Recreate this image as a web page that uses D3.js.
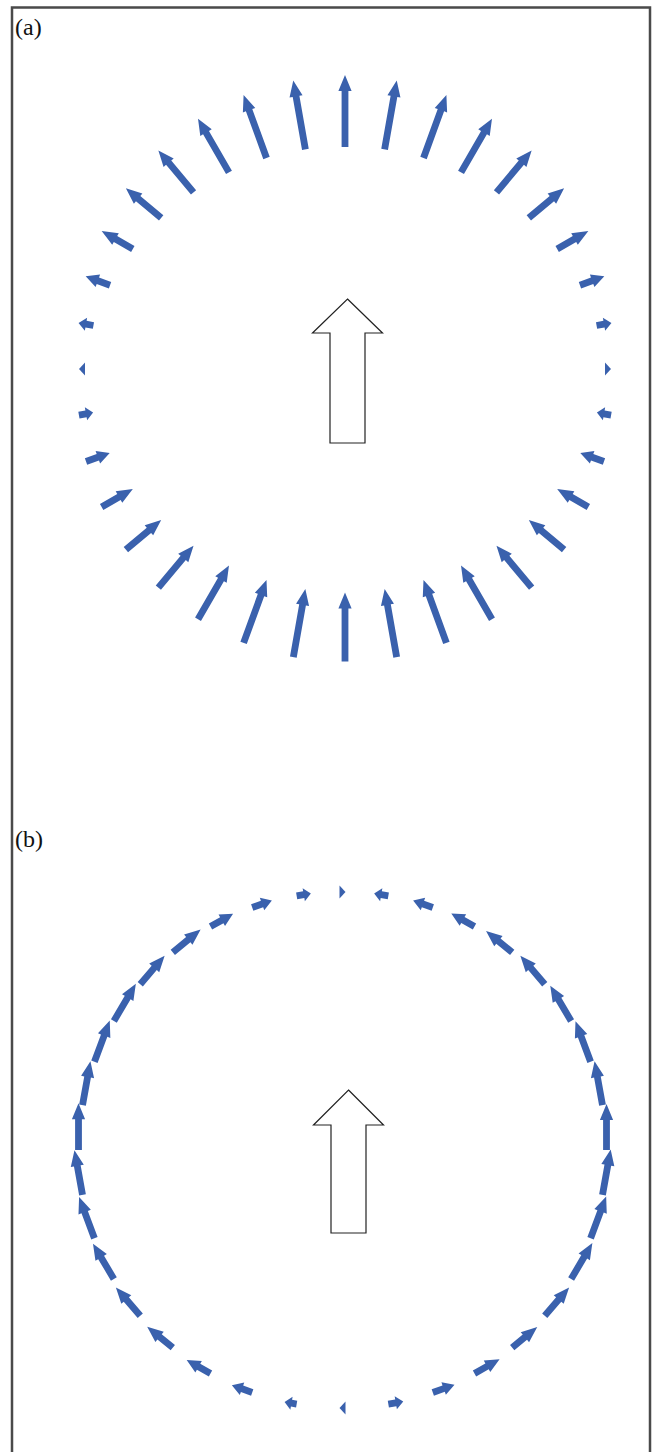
<!DOCTYPE html>
<html>
<head>
<meta charset="utf-8">
<script src="https://cdn.jsdelivr.net/npm/d3@7"></script>
<style>
  body { margin: 0; background: #fff; }
  svg { display: block; }
</style>
</head>
<body>
<svg id="chart"></svg>
<script>
// field sample points, degrees clockwise from the top of the circle
var angles = [0, 10, 20, 30, 40, 50, 60, 70, 80, 90, 100, 110, 120, 130, 140, 150, 160, 170,
              180, 190, 200, 210, 220, 230, 240, 250, 260, 270, 280, 290, 300, 310, 320, 330, 340, 350];

// (a) radial component, + points outward
var radial = [1.00, 0.97, 0.93, 0.86, 0.76, 0.64, 0.50, 0.36, 0.21, 0.06, -0.20, -0.35, -0.50, -0.64, -0.76, -0.86, -0.93, -0.96,
              -0.96, -0.96, -0.93, -0.86, -0.76, -0.64, -0.50, -0.35, -0.20, 0.08, 0.21, 0.36, 0.50, 0.64, 0.76, 0.86, 0.93, 0.97];

// (b) tangential component, + points clockwise
var tangential = [0.05, -0.20, -0.29, -0.37, -0.47, -0.52, -0.57, -0.60, -0.62, -0.64, -0.64, -0.62, -0.58, -0.52, -0.45, -0.40, -0.32, -0.21,
                  0.06, 0.17, 0.30, 0.38, 0.46, 0.52, 0.57, 0.61, 0.63, 0.65, 0.62, 0.61, 0.60, 0.52, 0.50, 0.36, 0.29, 0.20];

var panelLabels = ['(a)', '(b)'];

var W = 653, H = 1452;
var blue = '#3a61ad';

var svg = d3.select('#chart')
    .attr('width', W)
    .attr('height', H);

// frame, runs off the bottom of the picture
svg.append('rect')
    .attr('x', 12)
    .attr('y', 7.5)
    .attr('width', 638)
    .attr('height', 1470)
    .style('fill', 'none')
    .style('stroke', '#4a4a4a')
    .style('stroke-width', 2.5);

var lenScale = d3.scaleLinear().domain([0, 1]).range([0, 72]);
var rad = d3.scaleLinear().domain([0, 360]).range([0, 2 * Math.PI]);

var panels = [
    {label: panelLabels[0], labelY: 35, cx: 345, cy: 369, rx: 263, ry: 258, mode: 'radial', values: radial,
     big: {x: 347.5, tip: 299, base: 333, bottom: 443}},
    {label: panelLabels[1], labelY: 847, cx: 342.5, cy: 1150, rx: 264, ry: 258, mode: 'tangential', values: tangential,
     big: {x: 348.5, tip: 1090, base: 1125, bottom: 1233}}
];

// arrow outline from tail point, unit direction and length
function arrowPath(x0, y0, ux, uy, L) {
    L = Math.max(L, 6);
    var h = Math.min(L, Math.min(16, Math.max(7, L * 0.5)));
    var sw = 3.4, hw = 6.6;
    var nx = -uy, ny = ux;
    var bx = x0 + ux * (L - h), by = y0 + uy * (L - h);
    var tx = x0 + ux * L, ty = y0 + uy * L;
    var pts = [
        [x0 + nx * sw, y0 + ny * sw],
        [bx + nx * sw, by + ny * sw],
        [bx + nx * hw, by + ny * hw],
        [tx, ty],
        [bx - nx * hw, by - ny * hw],
        [bx - nx * sw, by - ny * sw],
        [x0 - nx * sw, y0 - ny * sw]
    ];
    return 'M' + pts.map(function (p) { return p[0].toFixed(2) + ',' + p[1].toFixed(2); }).join('L') + 'Z';
}

panels.forEach(function (p) {
    var g = svg.append('g');

    g.append('text')
        .attr('x', 15)
        .attr('y', p.labelY)
        .style('font-family', '"Liberation Serif", "Times New Roman", serif')
        .style('font-size', '24px')
        .style('fill', '#111')
        .text(p.label);

    var data = angles.map(function (a, i) { return {angle: a, v: p.values[i]}; });

    g.selectAll('path.vec')
        .data(data)
        .enter()
        .append('path')
        .attr('class', 'vec')
        .attr('d', function (d) {
            var t = rad(d.angle);
            var px = p.cx + p.rx * Math.sin(t),
                py = p.cy - p.ry * Math.cos(t);
            var L = lenScale(Math.abs(d.v));
            var ux, uy;
            if (p.mode === 'radial') {
                ux = Math.sin(t); uy = -Math.cos(t);
                if (d.v < 0) { ux = -ux; uy = -uy; }
                var Ld = Math.max(L, 6);
                // centred on the circle
                return arrowPath(px - ux * Ld / 2, py - uy * Ld / 2, ux, uy, L);
            } else {
                ux = p.rx * Math.cos(t); uy = p.ry * Math.sin(t);
                var n = Math.sqrt(ux * ux + uy * uy);
                ux /= n; uy /= n;
                if (d.v < 0) { ux = -ux; uy = -uy; }
                if (L < 6) {
                    return arrowPath(px - ux * 3, py - uy * 3, ux, uy, L);
                }
                // tail sits on the circle
                return arrowPath(px, py, ux, uy, L);
            }
        })
        .style('fill', blue);

    // the big outline arrow in the middle
    var b = p.big;
    var shape = [
        [b.x, b.tip], [b.x + 35, b.base], [b.x + 17.5, b.base], [b.x + 17.5, b.bottom],
        [b.x - 17.5, b.bottom], [b.x - 17.5, b.base], [b.x - 35, b.base]
    ];
    g.append('path')
        .attr('d', d3.line()(shape) + 'Z')
        .style('fill', '#fff')
        .style('stroke', '#222')
        .style('stroke-width', 1.2)
        .style('stroke-linejoin', 'miter');
});
</script>
</body>
</html>
